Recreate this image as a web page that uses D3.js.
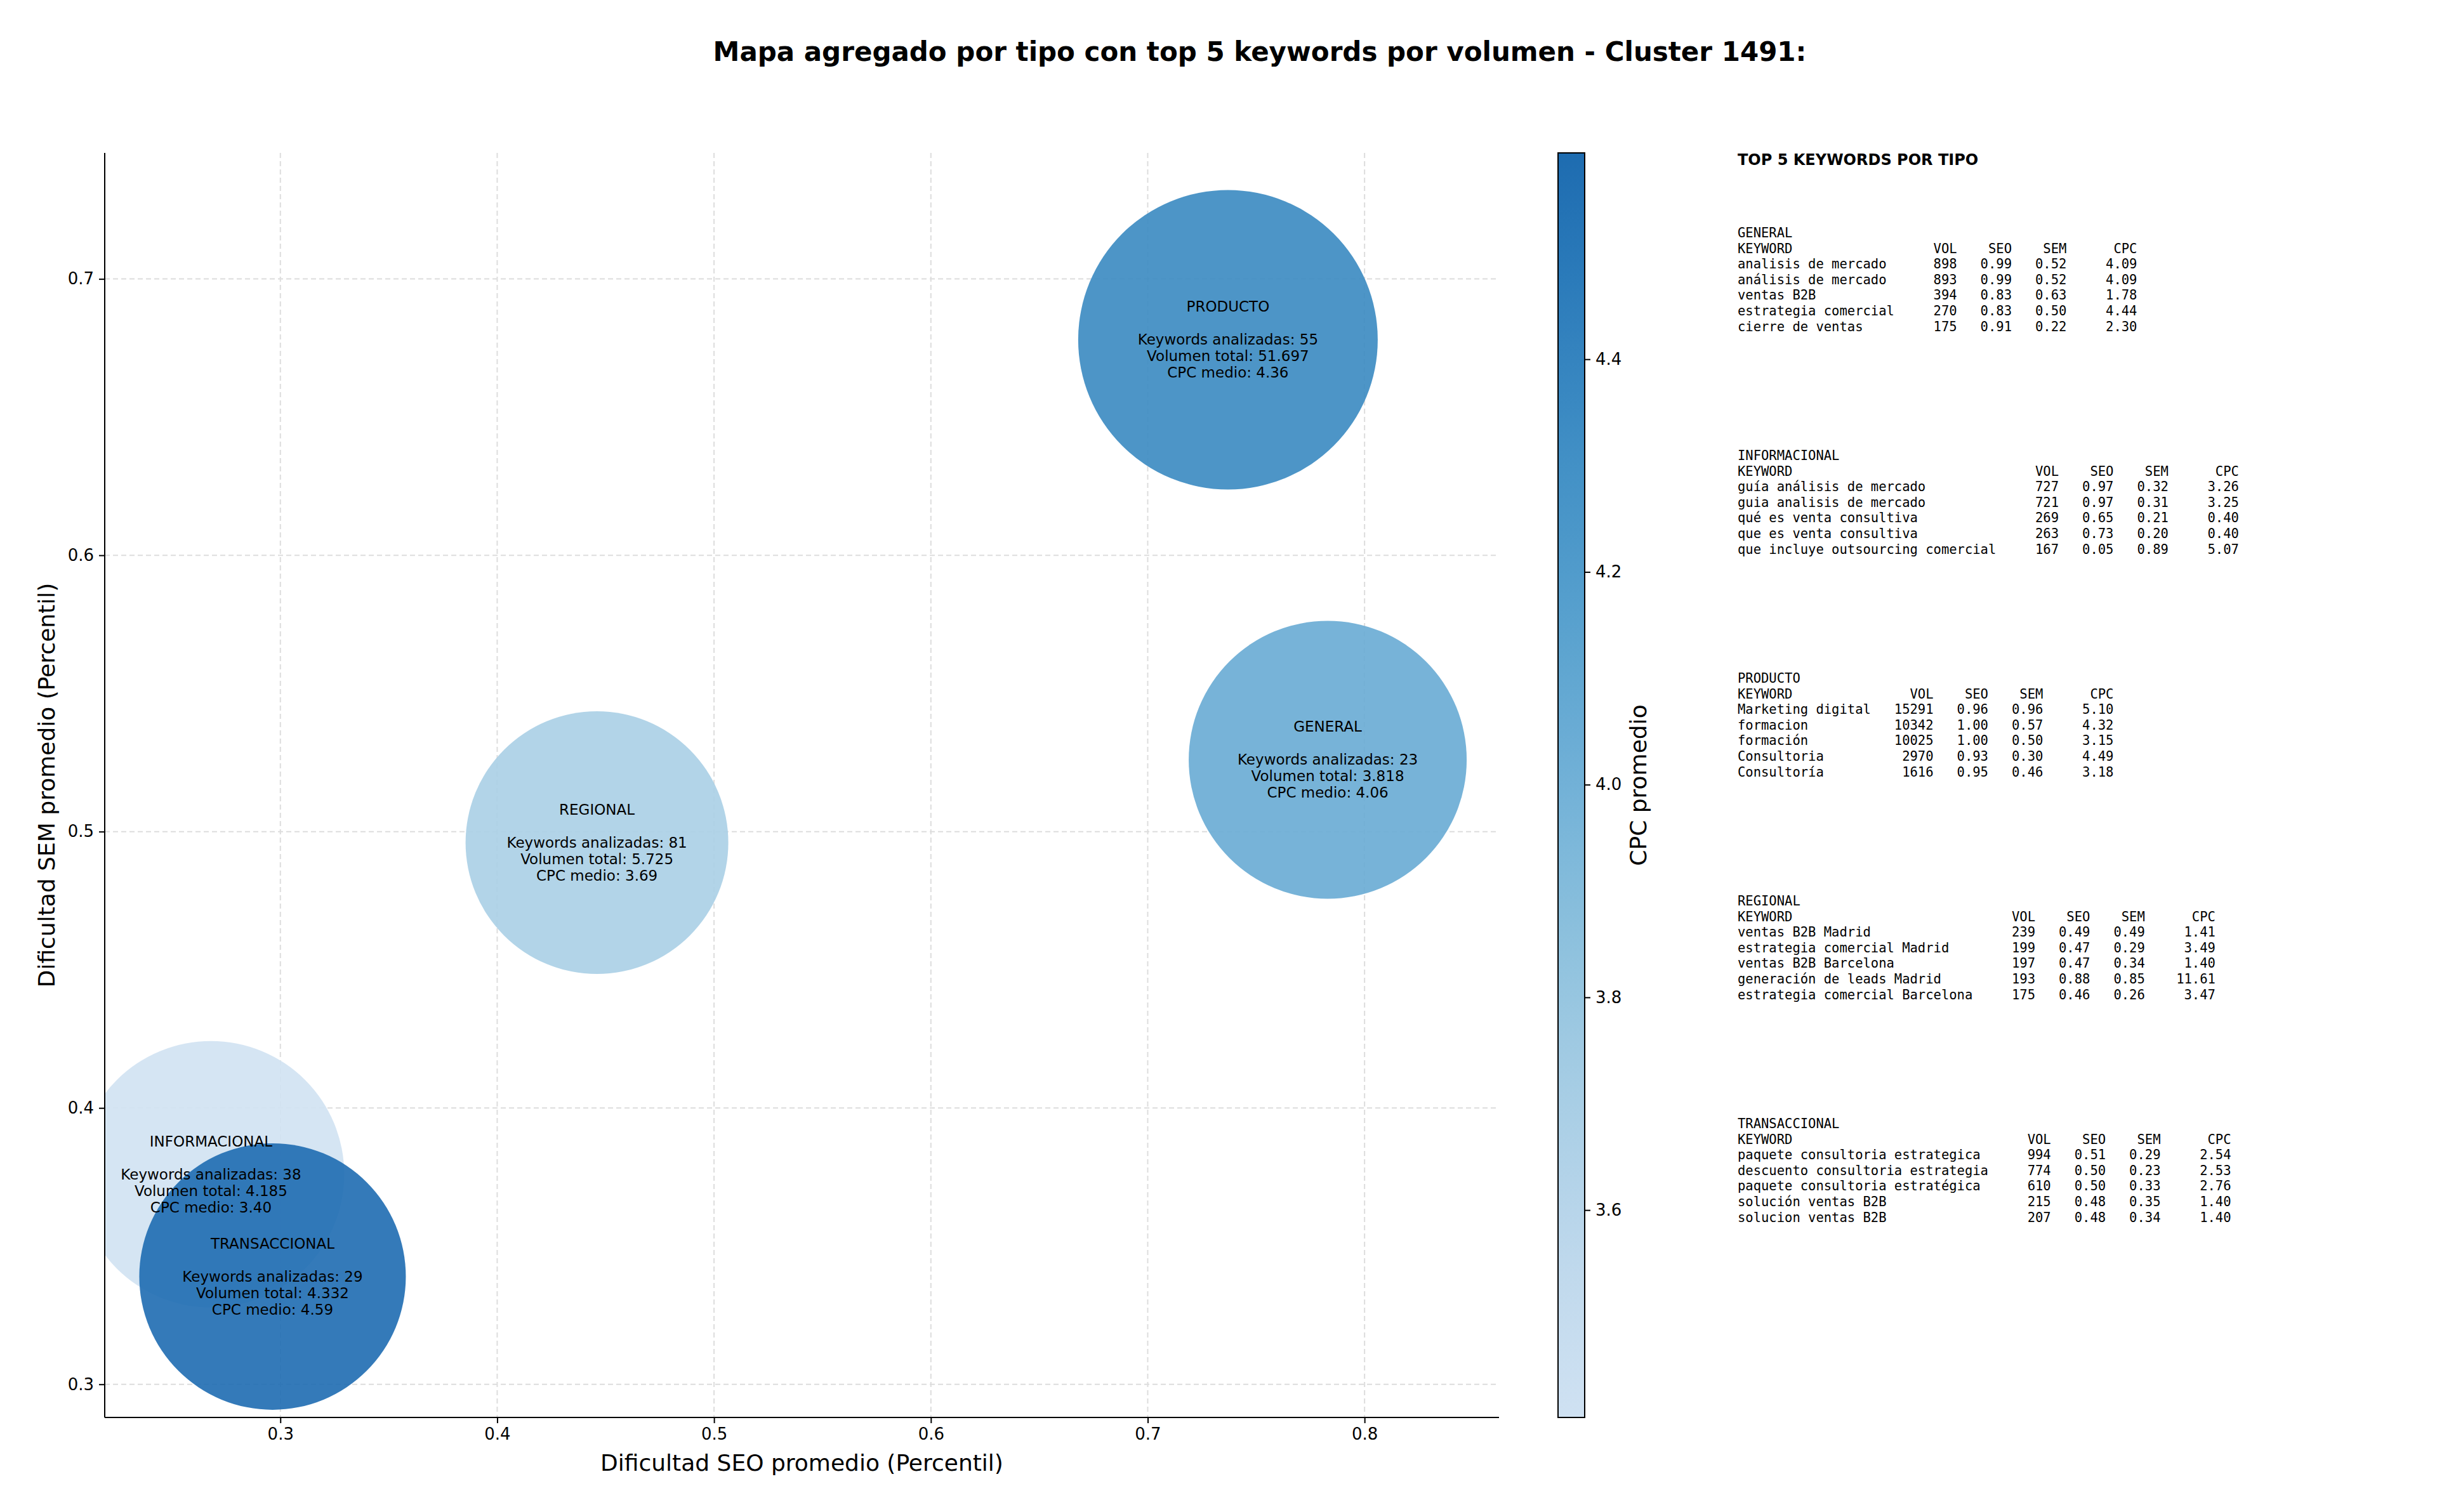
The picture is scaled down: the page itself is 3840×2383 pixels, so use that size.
<!DOCTYPE html>
<html><head><meta charset="utf-8">
<script src="https://cdn.jsdelivr.net/npm/d3@7"></script>
<style>body{margin:0;background:#fff}text{font-family:"DejaVu Sans",sans-serif}text.mono{font-family:"DejaVu Sans Mono",monospace;white-space:pre}</style>
</head><body><svg id="c" width="3840" height="2383"></svg>
<script>
const types = ["PRODUCTO","GENERAL","REGIONAL","INFORMACIONAL","TRANSACCIONAL"];
const seo = [0.737,0.783,0.446,0.268,0.2964];
const sem = [0.678,0.526,0.496,0.376,0.339];
const cpc = [4.36,4.06,3.69,3.40,4.59];
const nKeywords = [55,23,81,38,29];
const volume = ["51.697","3.818","5.725","4.185","4.332"];
const markerArea = [55700,47960,42850,44100,44100];
const xTicks = [0.3,0.4,0.5,0.6,0.7,0.8];
const yTicks = [0.3,0.4,0.5,0.6,0.7];
const cTicks = [3.6,3.8,4.0,4.2,4.4];

const tableOrder = ["GENERAL","INFORMACIONAL","PRODUCTO","REGIONAL","TRANSACCIONAL"];
const kwGENERAL = [["analisis de mercado",898,0.99,0.52,4.09],["análisis de mercado",893,0.99,0.52,4.09],["ventas B2B",394,0.83,0.63,1.78],["estrategia comercial",270,0.83,0.50,4.44],["cierre de ventas",175,0.91,0.22,2.30]];
const kwINFORMACIONAL = [["guía análisis de mercado",727,0.97,0.32,3.26],["guia analisis de mercado",721,0.97,0.31,3.25],["qué es venta consultiva",269,0.65,0.21,0.40],["que es venta consultiva",263,0.73,0.20,0.40],["que incluye outsourcing comercial",167,0.05,0.89,5.07]];
const kwPRODUCTO = [["Marketing digital",15291,0.96,0.96,5.10],["formacion",10342,1.00,0.57,4.32],["formación",10025,1.00,0.50,3.15],["Consultoria",2970,0.93,0.30,4.49],["Consultoría",1616,0.95,0.46,3.18]];
const kwREGIONAL = [["ventas B2B Madrid",239,0.49,0.49,1.41],["estrategia comercial Madrid",199,0.47,0.29,3.49],["ventas B2B Barcelona",197,0.47,0.34,1.40],["generación de leads Madrid",193,0.88,0.85,11.61],["estrategia comercial Barcelona",175,0.46,0.26,3.47]];
const kwTRANSACCIONAL = [["paquete consultoria estrategica",994,0.51,0.29,2.54],["descuento consultoria estrategia",774,0.50,0.23,2.53],["paquete consultoria estratégica",610,0.50,0.33,2.76],["solución ventas B2B",215,0.48,0.35,1.40],["solucion ventas B2B",207,0.48,0.34,1.40]];
const kwTables = {GENERAL:kwGENERAL,INFORMACIONAL:kwINFORMACIONAL,PRODUCTO:kwPRODUCTO,REGIONAL:kwREGIONAL,TRANSACCIONAL:kwTRANSACCIONAL};

const svg = d3.select("#c");
const L=165,R=2362,T=241,B=2234;
const x = d3.scaleLinear().domain([0.219,0.862]).range([L,R]);
const y = d3.scaleLinear().domain([0.288,0.7456]).range([B,T]);
const cmin=3.405,cmax=4.594;
const color = v => d3.interpolateBlues(0.2+0.57*(v-cmin)/(cmax-cmin));
const rs = d3.scaleSqrt().domain([0,60000]).range([0,Math.sqrt(60000)]);

svg.append("text").attr("x",1985).attr("y",96).attr("text-anchor","middle").attr("font-size",42).attr("font-weight","bold").text("Mapa agregado por tipo con top 5 keywords por volumen - Cluster 1491:");

svg.append("defs").append("clipPath").attr("id","pc").append("rect").attr("x",L).attr("y",T).attr("width",R-L).attr("height",B-T);

const g = svg.append("g");
g.selectAll(".gx").data(xTicks).join("line").attr("x1",d=>x(d)).attr("x2",d=>x(d)).attr("y1",T).attr("y2",B).attr("stroke","#ddd").attr("stroke-width",2).attr("stroke-dasharray","8,5");
g.selectAll(".gy").data(yTicks).join("line").attr("y1",d=>y(d)).attr("y2",d=>y(d)).attr("x1",L).attr("x2",R).attr("stroke","#ddd").attr("stroke-width",2).attr("stroke-dasharray","8,5");

const bg = svg.append("g").attr("clip-path","url(#pc)");
types.forEach((t,i)=>{
  bg.append("circle").attr("cx",x(seo[i])).attr("cy",y(sem[i])).attr("r",rs(markerArea[i])).attr("fill",color(cpc[i])).attr("fill-opacity",0.9);
});
types.forEach((t,i)=>{
  const lines=[t,"","Keywords analizadas: "+nKeywords[i],"Volumen total: "+volume[i],"CPC medio: "+cpc[i].toFixed(2)];
  const tx=svg.append("text").attr("text-anchor","middle").attr("font-size",23).attr("fill","#000");
  lines.forEach((l,k)=>tx.append("tspan").attr("x",x(seo[i])).attr("y",y(sem[i])+(k-2)*26+8).text(l));
});

const xa = svg.append("g").attr("transform",`translate(0,${B})`).call(d3.axisBottom(x).tickValues(xTicks).tickFormat(d3.format(".1f")).tickSize(9).tickPadding(8));
const ya = svg.append("g").attr("transform",`translate(${L},0)`).call(d3.axisLeft(y).tickValues(yTicks).tickFormat(d3.format(".1f")).tickSize(9).tickPadding(8));
[xa,ya].forEach(a=>{a.selectAll("text").attr("font-size",26).attr("font-family","DejaVu Sans");a.selectAll("line,path").attr("stroke","#000").attr("stroke-width",2);});
xa.select(".domain").attr("d",`M${L},0H${R}`);
ya.select(".domain").attr("d",`M0,${T}V${B}`);
svg.append("text").attr("x",(L+R)/2).attr("y",2318).attr("text-anchor","middle").attr("font-size",36).text("Dificultad SEO promedio (Percentil)");
svg.append("text").attr("transform",`translate(86,${(T+B)/2}) rotate(-90)`).attr("text-anchor","middle").attr("font-size",36).text("Dificultad SEM promedio (Percentil)");

const CL=2455,CW=42;
const cy = d3.scaleLinear().domain([cmin,cmax]).range([B,T]);
const grad = svg.select("defs").append("linearGradient").attr("id","cg").attr("x1",0).attr("x2",0).attr("y1",1).attr("y2",0);
d3.range(0,1.0001,0.05).forEach(s=>grad.append("stop").attr("offset",s).attr("stop-color",color(cmin+s*(cmax-cmin))));
svg.append("rect").attr("x",CL).attr("y",T).attr("width",CW).attr("height",B-T).attr("fill","url(#cg)").attr("stroke","#000").attr("stroke-width",2);
const ca = svg.append("g").attr("transform",`translate(${CL+CW},0)`).call(d3.axisRight(cy).tickValues(cTicks).tickFormat(d3.format(".1f")).tickSize(9).tickPadding(8));
ca.select(".domain").remove();
ca.selectAll("text").attr("font-size",26).attr("font-family","DejaVu Sans");
ca.selectAll("line").attr("stroke","#000").attr("stroke-width",2);
svg.append("text").attr("transform",`translate(2594,${(T+B)/2}) rotate(-90)`).attr("text-anchor","middle").attr("font-size",36).text("CPC promedio");

const TX=2738;
svg.append("text").attr("x",TX).attr("y",260).attr("font-size",24).attr("font-weight","bold").text("TOP 5 KEYWORDS POR TIPO");
const pad=(s,n,left)=>{s=String(s);while(s.length<n)s=left?s+" ":" "+s;return s;};
tableOrder.forEach((t,bi)=>{
  const rows=kwTables[t];
  const w=d3.max(rows,r=>r[0].length);
  const lines=[t, pad("KEYWORD",w,true)+pad("VOL",8)+pad("SEO",7)+pad("SEM",7)+pad("CPC",9)];
  rows.forEach(r=>lines.push(pad(r[0],w,true)+pad(r[1],8)+pad(r[2].toFixed(2),7)+pad(r[3].toFixed(2),7)+pad(r[4].toFixed(2),9)));
  const y0=374+bi*351;
  lines.forEach((l,k)=>svg.append("text").attr("class","mono").attr("x",TX).attr("y",y0+k*24.6).attr("font-size",20.5).attr("xml:space","preserve").text(l));
});
</script></body></html>
